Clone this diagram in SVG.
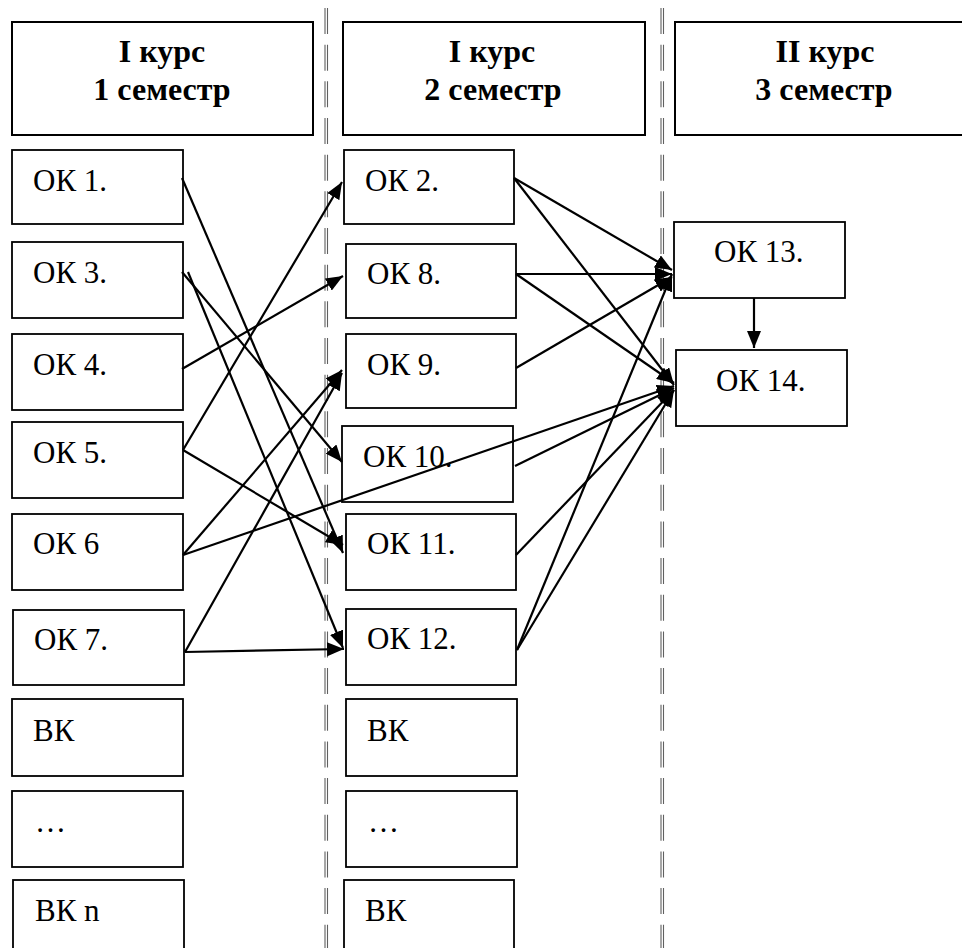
<svg xmlns="http://www.w3.org/2000/svg" width="962" height="948" viewBox="0 0 962 948">
<style>
.box{fill:#fff;stroke:#000;stroke-width:1.8}
.hdr{fill:#fff;stroke:#000;stroke-width:2}
.t{font-family:"Liberation Serif","Times New Roman",serif;font-size:31px;fill:#000}
.h{font-family:"Liberation Serif","Times New Roman",serif;font-size:32px;font-weight:bold;fill:#000;text-anchor:middle}
.dash{stroke:#606060;stroke-width:1.1;stroke-dasharray:26 10.67;stroke-dashoffset:28.67;fill:none}
.c line{stroke:#000;stroke-width:2.2;marker-end:url(#ah)}
</style>
<defs>
<marker id="ah" markerUnits="userSpaceOnUse" markerWidth="17" markerHeight="14" refX="17" refY="7" orient="auto">
<path d="M0,0 L17,7 L0,14 z" fill="#000"/>
</marker>
</defs>
<rect width="962" height="948" fill="#fff"/>
<g id="dividers">
<line class="dash" x1="325" y1="0" x2="325" y2="948"/>
<line class="dash" x1="327.5" y1="0" x2="327.5" y2="948"/>
<line class="dash" x1="661" y1="0" x2="661" y2="948"/>
<line class="dash" x1="663.5" y1="0" x2="663.5" y2="948"/>
</g>
<g id="h1"><rect class="hdr" x="12" y="22" width="301" height="113"/><text class="h" x="162" y="62">I курс</text><text class="h" x="162" y="100">1 семестр</text></g>
<g id="h2"><rect class="hdr" x="343" y="22" width="302" height="113"/><text class="h" x="492" y="62">I курс</text><text class="h" x="493" y="100">2 семестр</text></g>
<g id="h3"><rect class="hdr" x="675" y="22" width="300" height="113"/><text class="h" x="825" y="62">II курс</text><text class="h" x="824" y="100">3 семестр</text></g>

<g id="ok1"><rect class="box" x="12" y="150" width="171" height="74"/><text class="t" x="33" y="191">ОК 1.</text></g>
<g id="ok3"><rect class="box" x="12" y="242" width="171" height="76"/><text class="t" x="33" y="283">ОК 3.</text></g>
<g id="ok4"><rect class="box" x="12" y="334" width="171" height="76"/><text class="t" x="33" y="375">ОК 4.</text></g>
<g id="ok5"><rect class="box" x="12" y="422" width="171" height="76"/><text class="t" x="33" y="463">ОК 5.</text></g>
<g id="ok6"><rect class="box" x="12" y="514" width="171" height="76"/><text class="t" x="33" y="554">ОК 6</text></g>
<g id="ok7"><rect class="box" x="13" y="610" width="171" height="75"/><text class="t" x="34" y="650">ОК 7.</text></g>
<g id="vk1a"><rect class="box" x="12" y="699" width="171" height="77"/><text class="t" x="33" y="741">ВК</text></g>
<g id="dots1"><rect class="box" x="12" y="791" width="171" height="76"/><text class="t" x="35" y="832">…</text></g>
<g id="vkn"><rect class="box" x="13" y="880" width="171" height="80"/><text class="t" x="35" y="921">ВК n</text></g>

<g id="ok2"><rect class="box" x="344" y="150" width="170" height="74"/><text class="t" x="365" y="191">ОК 2.</text></g>
<g id="ok8"><rect class="box" x="346" y="244" width="170" height="74"/><text class="t" x="367" y="284">ОК 8.</text></g>
<g id="ok9"><rect class="box" x="346" y="334" width="170" height="74"/><text class="t" x="367" y="375">ОК 9.</text></g>
<g id="ok10"><rect class="box" x="342" y="426" width="171" height="76"/><text class="t" x="363" y="467">ОК 10.</text></g>
<g id="ok11"><rect class="box" x="346" y="514" width="170" height="76"/><text class="t" x="367" y="554">ОК 11.</text></g>
<g id="ok12"><rect class="box" x="346" y="609" width="170" height="76"/><text class="t" x="367" y="649">ОК 12.</text></g>
<g id="vk2a"><rect class="box" x="346" y="699" width="171" height="77"/><text class="t" x="367" y="741">ВК</text></g>
<g id="dots2"><rect class="box" x="346" y="791" width="171" height="76"/><text class="t" x="368" y="832">…</text></g>
<g id="vk2b"><rect class="box" x="344" y="880" width="170" height="80"/><text class="t" x="365" y="921">ВК</text></g>

<g id="ok13"><rect class="box" x="674" y="222" width="171" height="76"/><text class="t" x="714" y="262">ОК 13.</text></g>
<g id="ok14"><rect class="box" x="676" y="350" width="171" height="76"/><text class="t" x="716" y="391">ОК 14.</text></g>

<g id="connectors" class="c">
<line x1="182" y1="178" x2="343" y2="553"/>
<line x1="182" y1="272" x2="342" y2="462"/>
<line x1="188" y1="272" x2="343" y2="648"/>
<line x1="182" y1="369" x2="343" y2="276"/>
<line x1="183" y1="450" x2="342" y2="182"/>
<line x1="183" y1="450" x2="343" y2="545"/>
<line x1="183" y1="555" x2="342" y2="370"/>
<line x1="183" y1="555" x2="674" y2="386"/>
<line x1="185" y1="652" x2="342" y2="373"/>
<line x1="185" y1="652" x2="344" y2="649"/>
<line x1="514" y1="178" x2="672" y2="270"/>
<line x1="514" y1="178" x2="674" y2="385"/>
<line x1="516" y1="274" x2="672" y2="274"/>
<line x1="516" y1="274" x2="674" y2="383"/>
<line x1="516" y1="368" x2="672" y2="277"/>
<line x1="515" y1="466" x2="674" y2="388"/>
<line x1="516" y1="555" x2="674" y2="390"/>
<line x1="517" y1="650" x2="672" y2="274"/>
<line x1="517" y1="650" x2="674" y2="390"/>
<line x1="754" y1="298" x2="754" y2="348"/>
</g>
</svg>
